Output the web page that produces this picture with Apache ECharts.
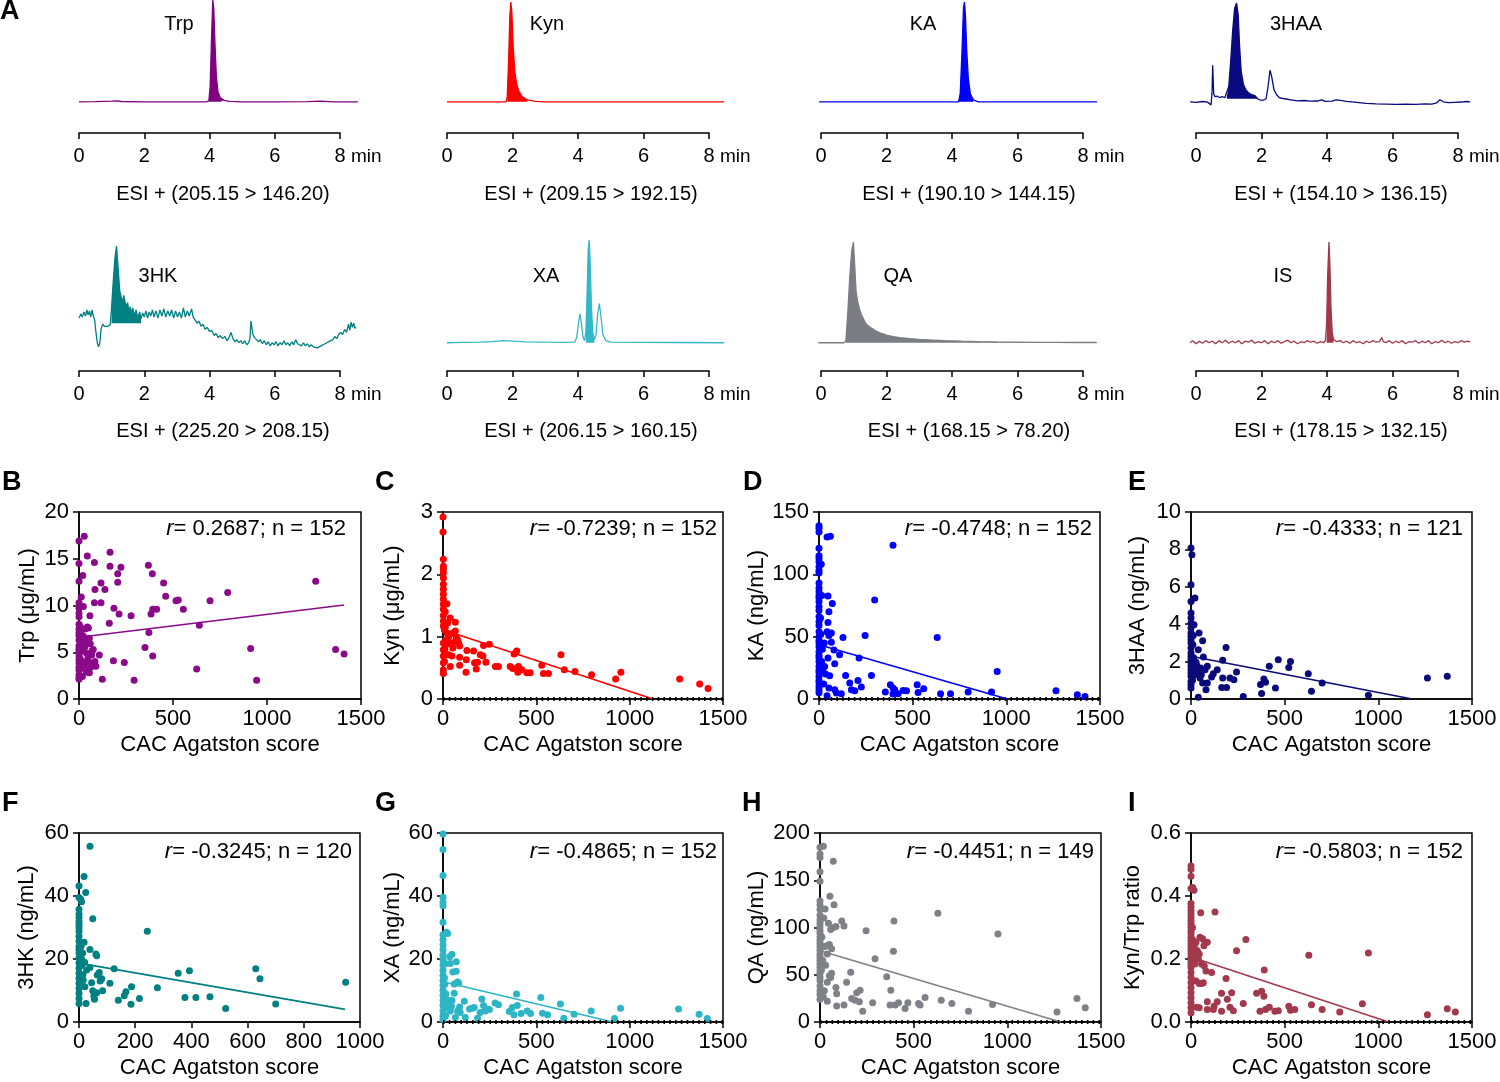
<!DOCTYPE html>
<html><head><meta charset="utf-8">
<script src="https://cdn.jsdelivr.net/npm/echarts@6/dist/echarts.min.js"></script>
<style>html,body{margin:0;padding:0;background:#fff}#c{width:1500px;height:1082px}</style>
</head><body><div id="c"></div>
<script>
// ---------------- DATA ----------------
const chromLabels = ['Trp','Kyn','KA','3HAA','3HK','XA','QA','IS'];
const esiLabels = ['ESI + (205.15 > 146.20)','ESI + (209.15 > 192.15)','ESI + (190.10 > 144.15)','ESI + (154.10 > 136.15)',
                   'ESI + (225.20 > 208.15)','ESI + (206.15 > 160.15)','ESI + (168.15 > 78.20)','ESI + (178.15 > 132.15)'];
const timeTicks = [0, 2, 4, 6, 8];

const trpTrace = [[0,0],[0.5,0.2],[1.0,0.6],[1.15,1],[1.3,0.3],[2,0],[3,0],[3.9,0],[3.98,1],[4.02,15],[4.06,60],[4.1,100],[4.13,92],[4.17,55],[4.21,25],[4.26,10],[4.33,4],[4.45,1.5],[4.6,0.5],[5,0],[6,0],[7,0.2],[7.4,0.6],[7.8,0],[8.55,0]];
const kynTrace = [[0,0],[1,0],[1.8,0],[1.84,5],[1.88,40],[1.92,85],[1.95,98],[1.98,88],[2.02,55],[2.07,30],[2.13,17],[2.2,10],[2.3,5],[2.45,2],[2.7,0.5],[3,0],[8.46,0]];
const kaTrace = [[-0.06,0],[2,0],[4.2,0],[4.25,8],[4.3,45],[4.35,92],[4.38,98],[4.41,85],[4.45,50],[4.5,22],[4.56,8],[4.65,2],[4.8,0],[8.43,0]];
const haaTrace = [[-0.18,0],[0.0,-0.5],[0.2,0.3],[0.35,-0.3],[0.46,-3],[0.49,10],[0.51,36],[0.54,8],[0.58,5],[0.65,5.5],[0.72,4.2],[0.8,5],[0.88,4],[0.94,5],[1.0,15],[1.06,40],[1.12,70],[1.18,92],[1.24,97],[1.29,85],[1.33,55],[1.38,30],[1.45,17],[1.52,12],[1.6,9],[1.7,7],[1.8,6],[1.88,3],[1.95,2],[2.05,1.5],[2.14,3],[2.2,15],[2.26,31],[2.31,25],[2.38,12],[2.46,7],[2.55,4],[2.7,3],[2.9,2],[3.1,1],[3.3,1.3],[3.5,0.6],[3.7,0.8],[3.84,2],[3.95,0.5],[4.15,0.7],[4.28,2],[4.33,3.5],[4.4,1.5],[4.6,0.5],[4.9,-0.5],[5.2,-1.5],[5.5,-2],[5.8,-2.2],[6.1,-2.6],[6.4,-2.3],[6.7,-2.5],[7.0,-2],[7.2,-2.2],[7.35,-1],[7.45,2],[7.55,0],[7.7,-0.8],[7.9,-0.5],[8.1,-0.2],[8.25,0.3],[8.37,0]];
const hkTrace = [[0,24],[0.06,28],[0.1,25],[0.15,30],[0.2,26],[0.24,32],[0.28,27],[0.32,31],[0.36,25],[0.4,32],[0.44,26],[0.48,22],[0.52,10],[0.56,0],[0.6,-4],[0.64,0],[0.68,14],[0.73,18],[0.78,16],[0.84,17],[0.9,16],[0.96,18],[1.0,35],[1.05,60],[1.1,82],[1.15,94],[1.2,72],[1.25,50],[1.29,45],[1.33,38],[1.37,46],[1.41,40],[1.45,35],[1.49,39],[1.53,30],[1.57,35],[1.61,28],[1.65,34],[1.7,26],[1.75,32],[1.8,24],[1.86,30],[1.9,23],[1.95,29],[2.0,25],[2.05,31],[2.1,24],[2.15,30],[2.2,26],[2.25,32],[2.3,25],[2.36,31],[2.42,24],[2.48,32],[2.54,26],[2.6,33],[2.66,25],[2.72,31],[2.78,26],[2.84,32],[2.9,24],[2.96,31],[3.02,25],[3.08,30],[3.14,24],[3.2,34],[3.26,25],[3.32,31],[3.38,26],[3.45,33],[3.5,25],[3.56,24],[3.62,19],[3.68,21],[3.74,16],[3.8,18],[3.87,13],[3.93,15],[4.0,11],[4.07,12],[4.14,7],[4.2,9],[4.27,5],[4.33,7],[4.4,4],[4.47,6],[4.54,2],[4.6,5],[4.66,10],[4.72,4],[4.78,1],[4.84,3],[4.9,0],[4.96,2],[5.02,-1],[5.08,2],[5.14,-2],[5.2,0],[5.24,4],[5.27,21],[5.3,20],[5.33,8],[5.38,5],[5.44,3],[5.5,1],[5.56,3],[5.62,-1],[5.68,2],[5.74,-2],[5.8,1],[5.86,-3],[5.92,0],[5.98,-2],[6.04,1],[6.1,-3],[6.16,0],[6.22,-2],[6.28,2],[6.34,-2],[6.4,0],[6.46,-3],[6.52,1],[6.58,-2],[6.64,3],[6.7,-1],[6.76,-2],[6.82,-3],[6.88,0],[6.94,-3],[7.0,-1],[7.06,-4],[7.12,-2],[7.18,-4],[7.24,-3],[7.3,-5],[7.36,-4],[7.42,-3],[7.48,-2],[7.54,-1],[7.6,0],[7.66,1],[7.72,2],[7.78,3],[7.84,6],[7.9,4],[7.96,8],[8.02,10],[8.08,8],[8.14,13],[8.2,10],[8.26,18],[8.3,12],[8.34,20],[8.38,15],[8.42,19],[8.46,14],[8.49,15]];
const xaTrace = [[0,0],[0.5,0.3],[1.0,0.5],[1.4,1],[1.7,2],[2.0,1.5],[2.4,0.8],[3.0,0.5],[3.6,0.3],[3.9,0.5],[3.96,5],[4.02,20],[4.06,28],[4.1,20],[4.15,6],[4.2,2],[4.24,10],[4.28,50],[4.31,90],[4.34,100],[4.37,80],[4.41,35],[4.45,10],[4.5,3],[4.55,8],[4.6,28],[4.65,38],[4.7,26],[4.76,8],[4.85,2],[5.0,0.5],[6,0.3],[7,0.2],[8.46,0]];
const qaTrace = [[-0.08,0],[0.3,0],[0.7,0],[0.76,2],[0.82,30],[0.88,65],[0.94,90],[0.99,98],[1.03,75],[1.07,50],[1.12,40],[1.18,32],[1.24,27],[1.3,23],[1.36,19],[1.42,17],[1.5,15],[1.6,13],[1.7,11],[1.85,9],[2.0,7.5],[2.2,6],[2.4,5],[2.7,4],[3.0,3.2],[3.4,2.6],[3.8,2],[4.3,1.5],[4.8,1.1],[5.4,0.8],[6.0,0.6],[6.6,0.4],[7.2,0.3],[7.8,0.2],[8.42,0.2]];
const isTrace = [[-0.18,0],[-0.1,2],[0,-1],[0.1,1.5],[0.2,-0.5],[0.3,2],[0.4,0],[0.5,1.5],[0.6,-1],[0.7,2],[0.8,0],[0.9,2.5],[1.0,-0.5],[1.1,1.5],[1.2,0],[1.3,2],[1.4,-1],[1.5,1.5],[1.6,0.5],[1.7,2.5],[1.8,-0.5],[1.9,1],[2.0,0],[2.1,2],[2.2,-1],[2.3,1.5],[2.4,0],[2.5,2],[2.6,-0.5],[2.7,1],[2.8,2.5],[2.9,0],[3.0,1.5],[3.1,-1],[3.2,1],[3.3,0],[3.4,2],[3.5,0.5],[3.6,1.5],[3.7,-0.5],[3.8,1],[3.9,0],[3.95,2],[3.99,20],[4.02,65],[4.06,98],[4.09,75],[4.12,35],[4.16,10],[4.2,3],[4.3,1],[4.4,2],[4.5,0],[4.6,1.5],[4.7,-0.5],[4.8,2],[4.9,0],[5.0,1],[5.1,-1],[5.2,1.5],[5.3,0],[5.4,2],[5.5,0.5],[5.6,1],[5.67,5],[5.72,1],[5.8,0],[5.9,2],[6.0,-0.5],[6.1,1.5],[6.2,0],[6.3,2],[6.4,-1],[6.5,1],[6.6,0.5],[6.7,2],[6.8,-0.5],[6.9,1.5],[7.0,0],[7.1,2],[7.2,-1],[7.3,1],[7.4,0],[7.5,2.5],[7.6,0],[7.7,1.5],[7.8,-0.5],[7.9,1],[8.0,0],[8.1,2],[8.2,0.5],[8.3,1.5],[8.37,0.5]];
const chromTraces = [trpTrace, kynTrace, kaTrace, haaTrace, hkTrace, xaTrace, qaTrace, isTrace];
const fillRanges = [[3.97,4.5],[1.82,2.5],[4.2,4.7],[0.94,1.9],[0.97,1.9],[4.22,4.5],[0.76,8.42],[3.97,4.2]];
const fillBases = [0, 0, 0, 3, 19, 0, 0, 0];

// scatter panels
const trpPoints = [[0,16.9],[28,17.4],[0,14.5],[44,15.3],[20,13.2],[0,12.6],[12,10.9],[0,10.3],[0,9.7],[23,9.9],[0,8.8],[0,8.0],[5,7.8],[14,7.4],[32,7.5],[44,7.7],[0,7.1],[0,6.3],[23,6.7],[0,5.7],[0,5.1],[0,4.6],[0,3.85],[0,3.1],[0,2.6],[0,2.1],[5,3.5],[14,4.1],[23,5.1],[32,5.6],[41,4.9],[44,4.0],[50,3.1],[55,2.8],[62,3.4],[67,4.7],[73,3.85],[76,5.3],[85,4.0],[90,3.5],[32,6.3],[55,6.5],[50,7.6],[5,5.7],[8,6.0],[3,4.4],[10,3.3],[18,2.4],[6,7.0],[58,8.9],[82,14.6],[82,10.3],[85,11.7],[117,12.4],[117,10.3],[138,11.7],[108,4.7],[124,2.1],[165,15.7],[165,14.2],[161,8.1],[186,9.7],[183,4.1],[206,13.4],[206,12.5],[213,9.1],[223,14.1],[241,3.9],[277,8.9],[293,2.0],[351,5.5],[369,14.3],[372,7.1],[390,13.4],[383,9.1],[392,9.6],[413,9.6],[392,4.6],[450,12.4],[461,11.0],[516,10.5],[528,10.6],[555,9.6],[626,3.2],[640,7.9],[697,10.5],[791,11.4],[913,5.4],[945,2.0],[1259,12.6],[1365,5.3],[1410,4.8],[60,5.9],[70,5.2],[48,4.4],[28,3.6],[38,2.9],[15,5.4],[25,6.0],[0,9.2],[0,7.5],[0,6.8],[0,5.4],[0,4.2],[0,3.4],[0,2.3]];
const kynPoints = [[0,2.92],[0,2.68],[2,2.24],[2,2.13],[2,2.08],[2,2.02],[2,1.94],[2,1.84],[2,1.76],[2,1.68],[2,1.6],[2,1.52],[21,1.53],[2,1.44],[2,1.34],[2,1.25],[2,1.17],[7,1.11],[21,1.06],[30,1.0],[2,0.9],[2,0.79],[2,0.69],[2,0.58],[2,0.47],[2,0.41],[48,1.05],[66,1.09],[61,0.91],[39,0.9],[30,0.71],[48,0.69],[71,0.98],[78,0.95],[84,0.9],[89,0.85],[66,1.23],[53,0.82],[39,0.52],[25,1.22],[39,1.3],[12,1.4],[12,1.15],[16,0.95],[10,0.8],[20,0.88],[8,0.6],[89,0.54],[89,0.67],[123,0.43],[125,0.63],[128,0.78],[164,0.77],[169,0.58],[178,0.48],[185,0.59],[200,0.71],[214,0.69],[217,0.86],[230,0.59],[248,0.88],[281,0.52],[297,0.52],[360,0.52],[374,0.49],[381,0.72],[395,0.77],[401,0.43],[404,0.52],[422,0.47],[449,0.42],[467,0.42],[529,0.54],[538,0.41],[565,0.41],[632,0.71],[650,0.47],[707,0.44],[796,0.39],[925,0.32],[953,0.43],[1268,0.32],[1375,0.24],[1420,0.17]];
const kaPoints = [[0,139],[0,137],[0,134],[0,121],[0,115],[0,113],[0,110],[0,106],[0,103],[0,101],[0,93],[0,89],[0,86],[0,83],[0,81],[0,78],[0,74],[0,71],[0,66],[0,62],[0,59],[0,54],[0,50],[0,47],[0,45],[0,42],[0,38],[0,35],[0,33],[0,30],[0,26],[0,23],[0,21],[0,18],[0,15],[0,13],[0,10],[0,7.5],[0,5],[43,130],[61,130.5],[48,82.6],[71,76.7],[48,61.3],[53,70],[43,54],[66,53],[53,51],[66,45.5],[80,39.4],[84,28.2],[48,32.8],[30,26],[57,18.6],[53,8.8],[43,2.7],[84,7.5],[93,4.8],[110,35.4],[128,49.3],[119,4.3],[142,18.9],[164,12.8],[173,7.5],[191,6.7],[208,14.9],[214,32.8],[226,9.6],[246,50.9],[280,18.9],[297,79.4],[354,5.6],[381,11.5],[395,123.3],[395,8.8],[422,4.3],[449,6.9],[467,6.7],[524,11.5],[529,5.3],[559,8.3],[631,49.3],[649,4.3],[702,4.3],[796,5.6],[921,5.6],[951,22.1],[1265,6.7],[1379,3.5],[1420,2.1],[395,4],[404,7.5],[12,108],[15,83],[10,52],[18,40],[20,22],[25,12],[14,30],[8,65],[28,45],[35,20]];
const haaPoints = [[0,8.07],[5,7.72],[0,6.11],[0,5.22],[0,4.6],[0,4.33],[0,4.06],[0,3.8],[0,3.53],[0,3.35],[0,3.17],[0,3.0],[0,2.73],[0,2.46],[0,2.28],[0,2.1],[0,1.93],[0,1.75],[0,1.57],[0,1.39],[0,1.21],[0,0.94],[0,0.77],[0,0.59],[21,5.4],[16,3.97],[43,3.53],[62,3.12],[39,2.64],[66,2.25],[27,1.96],[52,1.66],[75,1.57],[87,1.75],[48,1.12],[62,0.86],[39,0.09],[80,0.5],[87,0.86],[110,1.18],[119,1.35],[140,1.57],[164,0.62],[169,2.07],[187,2.76],[169,1.12],[190,0.62],[208,1.12],[229,1.03],[243,1.44],[279,0.14],[371,0.77],[377,0.29],[389,1.07],[398,0.89],[418,1.75],[451,0.59],[466,2.1],[522,1.69],[531,2.0],[626,1.35],[643,0.41],[700,0.86],[947,0.2],[1262,1.12],[1368,1.21],[10,2.9],[14,2.2],[18,1.5],[25,1.3],[30,1.8],[8,1.0],[12,3.4],[35,1.45],[55,1.3]];
const hkPoints = [[0,43.2],[0,39.5],[0,35.8],[0,34.2],[0,33.1],[0,32],[0,31],[0,29.9],[0,28.8],[0,27.2],[0,25.6],[0,24],[0,23],[0,21.9],[0,20.3],[0,18.7],[0,17.1],[0,15.5],[0,13.9],[0,12.3],[0,10.7],[0,9.1],[0,7.5],[0,5.9],[6,39],[9,38.2],[39,55.8],[18,46.2],[24,41.1],[49,32.8],[18,25.3],[39,23],[60,21.6],[63,21],[13,21.9],[7,24],[27,16.5],[39,17.3],[15,13.3],[21,11.2],[25,5.9],[45,12.5],[49,9.9],[55,7.2],[53,8.2],[63,9.3],[65,14.9],[72,15.7],[75,13],[81,13.7],[84,9.9],[110,12.3],[125,16.9],[140,6.9],[161,8.3],[167,9.6],[187,11.2],[185,5.6],[215,7.5],[243,28.8],[279,10.9],[353,15.5],[393,16.3],[377,7.8],[416,7.8],[466,8],[522,4.3],[629,16.9],[644,13.7],[700,5.7],[949,12.6],[10,18],[14,15],[5,12],[9,20],[20,19]];
const xaPoints = [[0,59.7],[0,54.8],[0,46.5],[0,39.6],[0,37.9],[0,36.9],[0,31.7],[0,27.7],[0,26.1],[0,24.5],[0,22.9],[0,21.3],[0,19.7],[0,18.1],[0,16.4],[0,14.8],[0,13.2],[0,11.6],[0,10],[0,8.4],[0,6.8],[0,5.2],[0,3.5],[0,1.9],[0,0.9],[18,28.5],[25,28.1],[12,18.6],[36,20.7],[48,21.5],[39,18.6],[53,15.9],[71,19.1],[71,16.1],[60,12.1],[78,12.7],[84,12.4],[48,6.8],[60,9.1],[39,3.5],[66,1.4],[78,3.5],[89,4.8],[92,3],[114,6.6],[119,1.4],[142,4.1],[155,4.4],[167,4.6],[185,1.2],[199,3],[208,7.3],[217,5.2],[226,3.5],[235,4.1],[249,4],[279,6],[297,5.5],[355,3.3],[371,4.6],[380,2.3],[394,8.9],[398,5.2],[418,2.7],[451,3.5],[469,2.7],[524,7.8],[533,2.8],[560,2.3],[629,5.7],[647,1.2],[702,2.5],[794,3.5],[919,1.1],[951,4.4],[1262,4.1],[1372,2.5],[1416,1.1],[10,12],[15,9],[20,5],[25,7],[30,4.5],[8,14],[14,2],[45,5]];
const qaPoints = [[0,185],[0,177.8],[0,174],[0,159],[0,149],[0,128],[0,124],[0,119],[0,113],[0,108],[0,104.5],[0,101],[0,97],[0,94],[0,90],[0,86.6],[0,83],[0,79.4],[0,76],[0,72],[0,68.7],[0,65],[0,61.5],[0,58],[0,54],[0,51],[0,47],[0,43.7],[0,38],[0,33],[0,29],[0,24],[18,186],[71,170],[27,119.5],[53,133],[75,124],[45,104.5],[57,98],[71,100],[85,101],[39,81],[50,82],[62,77.6],[39,72],[57,47],[62,51.5],[50,49],[39,42],[23,33],[18,26.5],[39,22],[85,36.5],[89,30],[89,16.8],[116,107],[128,101.6],[128,17.9],[142,42],[164,52.6],[169,25],[187,23],[196,31],[210,21.5],[214,33.6],[228,11.5],[246,96.6],[281,20.4],[294,67],[356,48],[378,33.6],[374,17.9],[392,74.8],[395,107],[401,17.9],[419,20.4],[454,14.3],[469,20.4],[526,19.7],[534,17.9],[561,25.8],[629,115],[647,22.9],[704,19.7],[793,11.5],[921,18.6],[950,93],[1265,10.7],[1372,25],[1416,15],[10,90],[15,65],[20,110],[8,55],[25,80],[30,60]];
const ratioPoints = [[0,0.495],[0,0.485],[0,0.463],[0,0.424],[0,0.376],[0,0.365],[0,0.354],[0,0.344],[0,0.333],[0,0.322],[0,0.312],[0,0.301],[0,0.29],[0,0.28],[0,0.269],[0,0.258],[0,0.248],[0,0.237],[0,0.226],[0,0.216],[0,0.205],[0,0.194],[0,0.184],[0,0.173],[0,0.157],[0,0.141],[0,0.125],[0,0.109],[0,0.093],[0,0.077],[0,0.061],[0,0.045],[0,0.029],[9,0.427],[16,0.418],[52,0.347],[128,0.349],[48,0.269],[62,0.264],[75,0.253],[87,0.253],[69,0.242],[27,0.253],[34,0.226],[44,0.216],[39,0.2],[21,0.184],[57,0.184],[71,0.178],[80,0.162],[110,0.157],[27,0.13],[44,0.122],[57,0.122],[66,0.125],[187,0.138],[163,0.091],[217,0.093],[194,0.072],[44,0.045],[30,0.047],[87,0.064],[87,0.04],[123,0.05],[119,0.04],[140,0.064],[163,0.034],[208,0.047],[226,0.036],[243,0.226],[279,0.059],[293,0.262],[350,0.091],[377,0.098],[389,0.082],[391,0.165],[368,0.034],[398,0.04],[418,0.047],[448,0.034],[466,0.036],[522,0.05],[531,0.037],[554,0.04],[629,0.212],[643,0.055],[700,0.04],[794,0.032],[915,0.058],[947,0.219],[1262,0.023],[1368,0.042],[1411,0.032],[10,0.26],[14,0.21],[18,0.24],[8,0.3],[20,0.2]];

const trpFit = [[0,6.6],[1410,10.05]];
const kynFit = [[0,1.11],[1125,0]];
const kaFit = [[0,43.5],[1005,0]];
const haaFit = [[0,2.29],[1180,0]];
const hkFit = [[0,18.7],[947,4.0]];
const xaFit = [[0,12.8],[910,0]];
const qaFit = [[0,75.3],[1285,0]];
const ratioFit = [[0,0.206],[1055,0]];

const panelLetters = ['B','C','D','E','F','G','H','I'];
const yNames = ['Trp (μg/mL)','Kyn (μg/mL)','KA (ng/mL)','3HAA (ng/mL)','3HK (ng/mL)','XA (ng/mL)','QA (ng/mL)','Kyn/Trp ratio'];
const rValues = ['0.2687','-0.7239','-0.4748','-0.4333','-0.3245','-0.4865','-0.4451','-0.5803'];
const nValues = [152, 152, 152, 121, 120, 152, 149, 152];
const yMax = [20, 3, 150, 10, 60, 60, 200, 0.6];
const yStep = [5, 1, 50, 2, 20, 20, 50, 0.2];
const xMax = [1500, 1500, 1500, 1500, 1000, 1500, 1500, 1500];
const xStep = [500, 500, 500, 500, 200, 500, 500, 500];
const zeroLine = [[0,0],[1500,0]];
const hasZeroDots = [false, true, true, false, false, true, true, true];
const scatterPoints = [trpPoints, kynPoints, kaPoints, haaPoints, hkPoints, xaPoints, qaPoints, ratioPoints];
const scatterFits = [trpFit, kynFit, kaFit, haaFit, hkFit, xaFit, qaFit, ratioFit];

// ---------------- STYLE / LAYOUT ----------------
const FONT = '"Liberation Sans", Arial, Helvetica, sans-serif';
const chromColors = ['#800080','#ff0000','#0000ff','#0a0a80','#008080','#33b8c8','#7c7c84','#a0384a'];
const scatColors = ['#8a0a8a','#ff0000','#0000ff','#0a0a7a','#008080','#2cb5c5','#808088','#a3394c'];
const chromCols = [[79,340],[447,709],[821,1083],[1196,1458]];
const chromRows = [{top:0,h:112,axisY:133,esiY:194,lblY:24},{top:240,h:113,axisY:371,esiY:431,lblY:276}];
const chromLabelX = [179,547,923,1296,158,546,898,1283];
const esiX = [223,591,969,1341];
const scatBoxes = [[79,512,282,187],[443,512,280,187],[819,512,281,187],[1191,512,281,187],
                   [79,833,281,189],[443,833,280,189],[820,833,281,189],[1191,833,281,189]];
const yNameGap = [40,39,51,42,41,39,52,47];
const letterPos = [[2,483],[375,483],[743,483],[1128,483],[2,804],[375,804],[742,804],[1128,804]];
const rPos = [[346,529],[717,529],[1092,529],[1463,529],[352,852],[717,852],[1094,852],[1463,852]];

const grids = [], xAxes = [], yAxes = [], series = [], graphics = [];
function txt(x, y, text, size, opts) {
  graphics.push(Object.assign({type:'text', x:x, y:y, silent:true,
    style: Object.assign({text:text, fontSize:size, fontFamily:FONT, fill:'#000', align:'center', verticalAlign:'middle'}, opts||{})}));
}

// chromatograms
chromTraces.forEach((trace, i) => {
  const row = chromRows[i < 4 ? 0 : 1];
  const col = i % 4;
  const L = chromCols[col][0], R = chromCols[col][1];
  const ppm = (R - L) / 8;
  grids.push({left: L - 0.3 * ppm, top: row.top, width: 9 * ppm, height: row.h});
  let gi = grids.length - 1;
  xAxes.push({gridIndex: gi, type:'value', min:-0.3, max:8.7, show:false});
  yAxes.push({gridIndex: gi, type:'value', min:-10, max:100, show:false});
  const fr = fillRanges[i];
  series.push({type:'line', xAxisIndex:gi, yAxisIndex:gi, data: trace.filter(p => p[0] >= fr[0] && p[0] <= fr[1]),
    showSymbol:false, silent:true, clip:false, lineStyle:{width:0},
    areaStyle:{color: chromColors[i], opacity:1, origin: fillBases[i]}});
  series.push({type:'line', xAxisIndex:gi, yAxisIndex:gi, data: trace, showSymbol:false, silent:true, clip:false,
    lineStyle:{color: chromColors[i], width:1.3}});
  grids.push({left: L, top: row.axisY - 10, width: R - L, height: 10});
  gi = grids.length - 1;
  xAxes.push({gridIndex: gi, type:'value', min: timeTicks[0], max: timeTicks[timeTicks.length-1], interval: 2,
    axisLine:{show:true, lineStyle:{color:'#000', width:1.5}},
    axisTick:{show:true, length:6, lineStyle:{color:'#000', width:1.5}},
    splitLine:{show:false},
    axisLabel:{fontSize:20, fontFamily:FONT, color:'#000', margin:13, formatter: v => String(v)}});
  yAxes.push({gridIndex: gi, type:'value', min:0, max:1, show:false});
  txt(R + 11, row.axisY + 24, 'min', 19, {align:'left'});
  txt(chromLabelX[i], row.lblY, chromLabels[i], 20);
  txt(esiX[col], row.esiY, esiLabels[i], 20);
});
txt(0, 12, 'A', 27, {align:'left', fontWeight:'bold'});

// scatter panels
scatterPoints.forEach((pts, i) => {
  const b = scatBoxes[i];
  grids.push({left:b[0], top:b[1], width:b[2], height:b[3], show:true, borderColor:'#000', borderWidth:1.5, backgroundColor:'transparent'});
  const gi = grids.length - 1;
  xAxes.push({gridIndex:gi, type:'value', min:0, max:xMax[i], interval:xStep[i],
    name:'CAC Agatston score', nameLocation:'middle', nameGap:35,
    nameTextStyle:{fontSize:22, fontFamily:FONT, color:'#000'},
    axisLine:{show:true, onZero:false, lineStyle:{color:'#000', width:1.5}},
    axisTick:{show:true, length:6, lineStyle:{color:'#000', width:1.5}},
    splitLine:{show:false},
    axisLabel:{fontSize:22, fontFamily:FONT, color:'#000', margin:9, formatter: v => String(v)}});
  yAxes.push({gridIndex:gi, type:'value', min:0, max:yMax[i], interval:yStep[i],
    name:yNames[i], nameLocation:'middle', nameGap:yNameGap[i],
    nameTextStyle:{fontSize:22, fontFamily:FONT, color:'#000'},
    axisLine:{show:true, onZero:false, lineStyle:{color:'#000', width:1.5}},
    axisTick:{show:true, length:6, lineStyle:{color:'#000', width:1.5}},
    splitLine:{show:false},
    axisLabel:{fontSize:22, fontFamily:FONT, color:'#000', margin:10,
      formatter: v => (yStep[i] < 1 ? v.toFixed(1) : String(v))}});
  if (hasZeroDots[i]) {
    series.push({type:'line', xAxisIndex:gi, yAxisIndex:gi, data: zeroLine, showSymbol:false, silent:true, z:5,
      lineStyle:{color:'#000', width:4, type:[1.6,4.2]}});
  }
  series.push({type:'scatter', xAxisIndex:gi, yAxisIndex:gi, data:pts, symbolSize:7, silent:true, z:3,
    itemStyle:{color:scatColors[i], opacity:1}});
  series.push({type:'line', xAxisIndex:gi, yAxisIndex:gi, data:scatterFits[i], showSymbol:false, silent:true, z:4,
    lineStyle:{color:scatColors[i], width:1.6}});
  txt(letterPos[i][0], letterPos[i][1], panelLetters[i], 27, {align:'left', fontWeight:'bold'});
  txt(rPos[i][0], rPos[i][1], '{i|r}= ' + rValues[i] + '; n = ' + nValues[i], 22,
      {align:'right', rich:{i:{fontStyle:'italic', fontSize:22, fontFamily:FONT, fill:'#000'}}});
});

const chart = echarts.init(document.getElementById('c'), null, {renderer:'canvas'});
chart.setOption({
  animation:false, backgroundColor:'#fff',
  grid:grids, xAxis:xAxes, yAxis:yAxes, series:series, graphic:graphics
});
</script></body></html>
